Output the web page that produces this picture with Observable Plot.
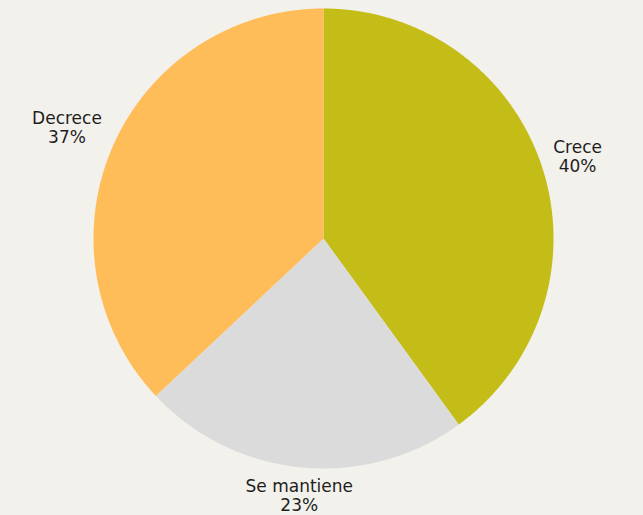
<!DOCTYPE html>
<html>
<head>
<meta charset="utf-8">
<script src="https://cdn.jsdelivr.net/npm/d3@7"></script>
<script src="https://cdn.jsdelivr.net/npm/@observablehq/plot@0.6"></script>
<style>
  html, body { margin: 0; padding: 0; background: #f2f1ec; }
  #chart svg { display: block; }
</style>
</head>
<body>
<div id="chart"></div>
<script>
const categories = ["Crece", "Se mantiene", "Decrece"];
const values = [40, 23, 37];
const colors = ["#c4bd17", "#dbdbdb", "#ffbd5a"];

const FONT_SIZE = 17;
const FONT_FAMILY = "'DejaVu Sans', sans-serif";
const LINE_H = 1.12;
const RADIUS_PX = 230;

const total = d3.sum(values);
let acc = 0;
const slices = categories.map((name, i) => {
  const a0 = (acc / total) * 2 * Math.PI;
  acc += values[i];
  const a1 = (acc / total) * 2 * Math.PI;
  return { name, value: values[i], a0, a1, mid: (a0 + a1) / 2 };
});

// polygon points for each slice (angle measured clockwise from top)
const pts = [];
for (const s of slices) {
  pts.push({ name: s.name, x: 0, y: 0 });
  const n = Math.max(2, Math.ceil((s.a1 - s.a0) / 0.005));
  for (let k = 0; k <= n; k++) {
    const a = s.a0 + (s.a1 - s.a0) * k / n;
    pts.push({ name: s.name, x: Math.sin(a), y: Math.cos(a) });
  }
  pts.push({ name: s.name, x: 0, y: 0 });
}

// outside labels: text box pushed out along mid-angle until it clears the pie
const ctx = document.createElement("canvas").getContext("2d");
ctx.font = `${FONT_SIZE}px ${FONT_FAMILY}`;
const labels = slices.map(s => {
  const lines = [s.name, `${Math.round(s.value)}%`];
  const w = d3.max(lines, l => ctx.measureText(l).width) / 2;
  const h = lines.length * FONT_SIZE * LINE_H / 2 - 3;
  const sx = Math.abs(Math.sin(s.mid)), cy = Math.abs(Math.cos(s.mid));
  const d = Math.min(sx > 1e-6 ? w / sx : Infinity, cy > 1e-6 ? h / cy : Infinity);
  const r = 1.05 + d / RADIUS_PX;
  return { text: lines.join("\n"), x: r * Math.sin(s.mid), y: r * Math.cos(s.mid) };
});

const plot = Plot.plot({
  width: 643,
  height: 515,
  marginLeft: 93,
  marginRight: 90,
  marginTop: 8,
  marginBottom: 47,
  x: { domain: [-1, 1], axis: null },
  y: { domain: [-1, 1], axis: null },
  color: { domain: categories, range: colors },
  style: { background: "#f2f1ec", fontFamily: FONT_FAMILY, overflow: "visible" },
  marks: [
    Plot.line(pts, { x: "x", y: "y", z: "name", fill: "name", stroke: "none", curve: "linear" }),
    Plot.text(labels, {
      x: "x", y: "y", text: "text",
      fontSize: FONT_SIZE, fill: "#1e1e1e", lineHeight: LINE_H,
      textAnchor: "middle", lineAnchor: "middle"
    })
  ]
});
document.getElementById("chart").appendChild(plot);
</script>
</body>
</html>
